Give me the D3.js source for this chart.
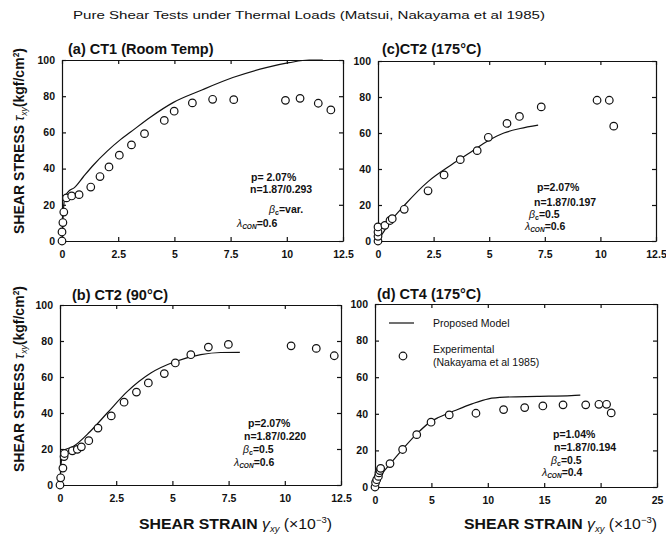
<!DOCTYPE html>
<meta charset="utf-8">
<title>Pure Shear Tests</title>
<style>

body {
  margin: 0;
  background: #fff;
}

svg {
  font-family: "Liberation Sans", Arial, sans-serif;
}

.axis path, .axis line {
  stroke: #111;
  stroke-width: 1.2;
  fill: none;
}

.axis text {
  font-size: 10.5px;
  font-weight: bold;
  fill: #111;
}

.model {
  fill: none;
  stroke: #111;
  stroke-width: 1.2;
}

.dot {
  fill: #fff;
  stroke: #111;
  stroke-width: 1.2;
}

.note {
  font-size: 10.5px;
  font-weight: bold;
  fill: #111;
}

</style>
<body>
<script src="https://d3js.org/d3.v7.min.js"></script>
<script>

// ---- data (strain x10^-3, stress kgf/cm2) ----

var yTicks = [0, 20, 40, 60, 80, 100];
var xTicksShort = [0, 2.5, 5, 7.5, 10, 12.5];
var xTicksLong = [0, 5, 10, 15, 20, 25];

// (a) CT1 room temp
var ct1ExpStrain = [0, 0, 0.04, 0.08, 0.2, 0.43, 0.76, 1.28, 1.69, 2.09, 2.55, 3.09, 3.67, 4.55, 4.99, 5.8, 6.7, 7.64, 9.94, 10.59, 11.4, 11.96];
var ct1ExpStress = [0, 5, 10.2, 16, 23.8, 24.9, 25.6, 29.8, 35.6, 40.9, 47.4, 53.1, 59.3, 66.6, 71.7, 76.3, 78.3, 78.1, 77.7, 78.8, 76.1, 72.4];
var ct1ModelStrain = [0, 0.05, 0.12, 0.3, 0.55, 0.95, 1.4, 2.0, 2.6, 3.05, 3.93, 4.96, 6.14, 7.6, 9.08, 10.1, 11.0, 11.6];
var ct1ModelStress = [0, 14, 24, 27.5, 29.5, 35.5, 42, 49.5, 56, 60.2, 68.4, 76.6, 83, 90.3, 95.8, 98.5, 100, 100];

// (c) CT2 175C
var ct2hExpStrain = [0, 0, 0, 0, 0.31, 0.54, 0.64, 1.18, 2.25, 2.97, 3.7, 4.46, 4.96, 5.8, 6.36, 7.34, 9.85, 10.4, 10.6];
var ct2hExpStress = [0, 2.6, 5, 7.8, 8.7, 11.4, 12.4, 17.6, 27.9, 36.7, 45.2, 50.2, 57.6, 65.3, 69.2, 74.5, 78.2, 78.2, 63.8];
var ct2hModelStrain = [0, 0.2, 0.54, 1.2, 2.25, 3.32, 4.2, 4.93, 5.66, 6.39, 7.2];
var ct2hModelStress = [0, 4, 10.5, 20, 33, 42.5, 49.6, 55.5, 60, 62.5, 64.4];

// (b) CT2 90C
var ct2mExpStrain = [0, 0.03, 0.13, 0.18, 0.2, 0.55, 0.77, 0.95, 1.28, 1.69, 2.28, 2.85, 3.4, 3.93, 4.64, 5.13, 5.82, 6.6, 7.49, 10.28, 11.4, 12.2];
var ct2mExpStress = [0, 4, 9.4, 15.8, 17.5, 19, 19.8, 21.2, 24.6, 31.6, 38.4, 46, 51.6, 56.7, 61.9, 67.8, 72.4, 76.6, 78.1, 77.3, 75.9, 71.8];
var ct2mModelStrain = [0, 0.05, 0.15, 0.6, 1.33, 2.1, 3.0, 4.04, 5.07, 6.26, 7.15, 8.0];
var ct2mModelStress = [0, 12, 19, 21.5, 29.6, 40, 52, 62.2, 68.3, 72.4, 73.6, 73.7];

// (d) CT4 175C
var ct4ExpStrain = [0, 0.05, 0.15, 0.3, 0.35, 0.44, 0.5, 1.33, 2.45, 3.7, 4.97, 6.58, 8.95, 11.4, 13.27, 14.88, 16.67, 18.68, 19.85, 20.53, 20.94];
var ct4ExpStress = [0, 2.5, 4, 5.8, 7.7, 9, 10.2, 12.8, 20.5, 28.6, 35.4, 39.4, 40.3, 42.3, 43.4, 44.3, 44.9, 44.9, 45.2, 45.2, 40.5];
var ct4ModelStrain = [0, 0.44, 1.33, 2.5, 3.7, 5.0, 5.67, 7.1, 8.6, 10.06, 11.5, 14.4, 17.4, 18.2];
var ct4ModelStress = [0, 5.5, 12.5, 21, 29, 36, 38.1, 41.8, 45.4, 48.2, 49.1, 49.5, 49.9, 50.2];

var panelTitles = ["(a) CT1 (Room Temp)", "(c)CT2 (175\u00b0C)", "(b) CT2 (90\u00b0C)", "(d) CT4 (175\u00b0C)"];
var pValues = ["p= 2.07%", "p=2.07%", "p=2.07%", "p=1.04%"];
var nValues = ["n=1.87/0.293", "n=1.87/0.197", "n=1.87/0.220", "n=1.87/0.194"];
var betaValues = ["var.", "0.5", "0.5", "0.5"];
var lambdaValues = ["0.6", "0.6", "0.6", "0.4"];

// ---- layout ----

var svg = d3.select("body").append("svg")
    .attr("width", 666)
    .attr("height", 534);

svg.append("text")
    .attr("x", 73)
    .attr("y", 19)
    .attr("textLength", 472)
    .attr("lengthAdjust", "spacingAndGlyphs")
    .style("font-size", "11.5px")
    .style("fill", "#111")
    .text("Pure Shear Tests under Thermal Loads (Matsui, Nakayama et al 1985)");

var panels = [
  {left: 62, right: 343, top: 60, bottom: 241, xMax: 12.5, xTicks: xTicksShort,
   expX: ct1ExpStrain, expY: ct1ExpStress, modX: ct1ModelStrain, modY: ct1ModelStress,
   titleX: 68, titleY: 54, notes: [[251, 181], [250, 193], [269, 213], [237, 227]]},
  {left: 378, right: 656, top: 61, bottom: 241, xMax: 12.5, xTicks: xTicksShort,
   expX: ct2hExpStrain, expY: ct2hExpStress, modX: ct2hModelStrain, modY: ct2hModelStress,
   titleX: 382, titleY: 54, notes: [[537, 191], [534, 206], [529, 218], [525, 230]]},
  {left: 60, right: 341, top: 305, bottom: 485, xMax: 12.5, xTicks: xTicksShort,
   expX: ct2mExpStrain, expY: ct2mExpStress, modX: ct2mModelStrain, modY: ct2mModelStress,
   titleX: 72, titleY: 300, notes: [[248, 427], [244, 440], [243, 453], [234, 466]]},
  {left: 375, right: 657, top: 304, bottom: 487, xMax: 25, xTicks: xTicksLong,
   expX: ct4ExpStrain, expY: ct4ExpStress, modX: ct4ModelStrain, modY: ct4ModelStress,
   titleX: 377, titleY: 299, notes: [[553, 438], [554, 451], [551, 464], [542, 476]]}
];

panels.forEach(function(p, i) {
  var x = d3.scaleLinear().domain([0, p.xMax]).range([p.left, p.right]);
  var y = d3.scaleLinear().domain([0, 100]).range([p.bottom, p.top]);
  var g = svg.append("g");

  g.append("g")
      .attr("class", "axis")
      .attr("transform", "translate(0," + p.bottom + ")")
      .call(d3.axisBottom(x).tickValues(p.xTicks).tickSizeInner(-4).tickSizeOuter(0)
        .tickPadding(10).tickFormat(function(d) { return d; }));

  g.append("g")
      .attr("class", "axis")
      .attr("transform", "translate(" + p.left + ",0)")
      .call(d3.axisLeft(y).tickValues(yTicks).tickSizeInner(-4).tickSizeOuter(0)
        .tickPadding(7).tickFormat(function(d) { return d; }));

  g.append("g")
      .attr("class", "axis")
      .attr("transform", "translate(0," + p.top + ")")
      .call(d3.axisTop(x).tickValues(p.xTicks).tickSizeInner(-4).tickSizeOuter(0).tickFormat(""));

  g.append("g")
      .attr("class", "axis")
      .attr("transform", "translate(" + p.right + ",0)")
      .call(d3.axisRight(y).tickValues(yTicks).tickSizeInner(-4).tickSizeOuter(0).tickFormat(""));

  g.append("text")
      .attr("x", p.titleX)
      .attr("y", p.titleY)
      .style("font-size", "14.5px")
      .style("font-weight", "bold")
      .style("fill", "#111")
      .text(panelTitles[i]);

  var line = d3.line()
      .x(function(d) { return x(d[0]); })
      .y(function(d) { return y(d[1]); })
      .curve(d3.curveMonotoneX);

  g.append("path")
      .attr("class", "model")
      .attr("d", line(d3.zip(p.modX, p.modY)));

  g.selectAll(".dot")
      .data(d3.zip(p.expX, p.expY))
    .enter().append("circle")
      .attr("class", "dot")
      .attr("r", 3.8)
      .attr("cx", function(d) { return x(d[0]); })
      .attr("cy", function(d) { return y(d[1]); });

  // parameter notes
  var n = p.notes;
  g.append("text").attr("class", "note").attr("x", n[0][0]).attr("y", n[0][1]).text(pValues[i]);
  g.append("text").attr("class", "note").attr("x", n[1][0]).attr("y", n[1][1]).text(nValues[i]);
  var b = g.append("text").attr("class", "note").attr("x", n[2][0]).attr("y", n[2][1]);
  b.append("tspan").style("font-style", "italic").style("font-weight", "normal").text("\u03b2");
  b.append("tspan").attr("dy", 2).style("font-size", "7px").text("c");
  b.append("tspan").attr("dy", -2).text("=" + betaValues[i]);
  var l = g.append("text").attr("class", "note").attr("x", n[3][0]).attr("y", n[3][1]);
  l.append("tspan").style("font-style", "italic").style("font-weight", "normal").text("\u03bb");
  l.append("tspan").attr("dy", 2).style("font-size", "6.5px").style("font-style", "italic").text("CON");
  l.append("tspan").attr("dy", -2).text("=" + lambdaValues[i]);
});

// y axis titles
[141, 379].forEach(function(cy) {
  var t = svg.append("text")
      .attr("transform", "translate(24," + cy + ") rotate(-90)")
      .attr("text-anchor", "middle")
      .attr("textLength", 186)
      .attr("lengthAdjust", "spacingAndGlyphs")
      .style("font-size", "15px")
      .style("fill", "#111");
  t.append("tspan").style("font-weight", "bold").text("SHEAR STRESS ");
  t.append("tspan").style("font-style", "italic").text("\u03c4");
  t.append("tspan").attr("dy", 3).style("font-style", "italic").style("font-size", "9px").text("xy");
  t.append("tspan").attr("dy", -3).style("font-weight", "bold").text("(kgf/cm");
  t.append("tspan").attr("dy", -5).style("font-size", "9px").style("font-weight", "bold").text("2");
  t.append("tspan").attr("dy", 5).style("font-weight", "bold").text(")");
});

// x axis titles
[139, 464].forEach(function(lx) {
  var t = svg.append("text")
      .attr("x", lx)
      .attr("y", 529)
      .attr("textLength", 193)
      .attr("lengthAdjust", "spacingAndGlyphs")
      .style("font-size", "15px")
      .style("fill", "#111");
  t.append("tspan").style("font-weight", "bold").text("SHEAR STRAIN  ");
  t.append("tspan").style("font-style", "italic").text("\u03b3");
  t.append("tspan").attr("dy", 3).style("font-style", "italic").style("font-size", "9px").text("xy");
  t.append("tspan").attr("dy", -3).text("  (\u00d710");
  t.append("tspan").attr("dy", -6).style("font-size", "9px").text("\u22123");
  t.append("tspan").attr("dy", 6).text(")");
});

// legend in panel (d)
var leg = svg.append("g");
leg.append("line")
    .attr("x1", 389).attr("x2", 414)
    .attr("y1", 323).attr("y2", 323)
    .attr("class", "model");
leg.append("circle")
    .attr("class", "dot")
    .attr("r", 3.8)
    .attr("cx", 403).attr("cy", 356);
leg.append("text").attr("x", 433).attr("y", 327)
    .style("font-size", "10.5px").style("fill", "#111").text("Proposed Model");
leg.append("text").attr("x", 433).attr("y", 353)
    .style("font-size", "10.5px").style("fill", "#111").text("Experimental");
leg.append("text").attr("x", 433).attr("y", 366)
    .style("font-size", "10.5px").style("fill", "#111").text("(Nakayama et al 1985)");

</script>
